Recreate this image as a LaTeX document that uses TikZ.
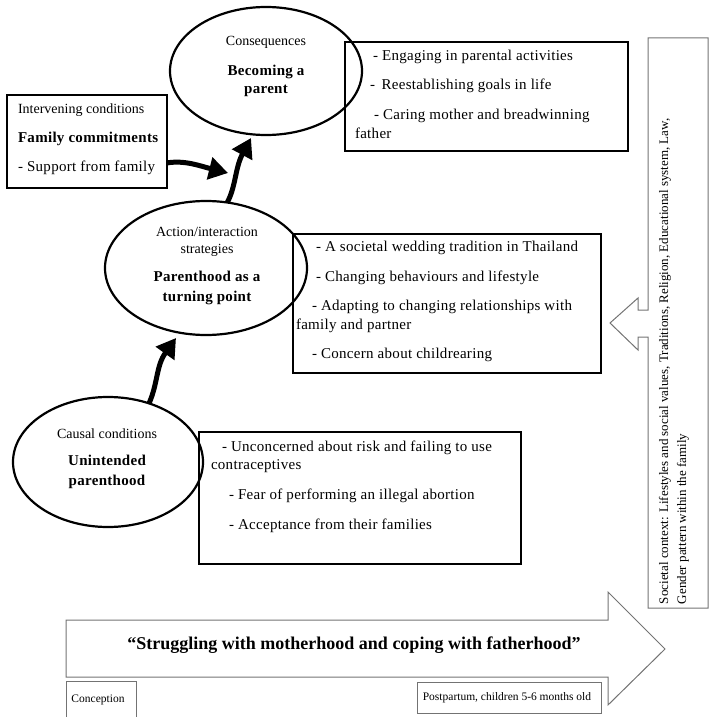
\documentclass[tikz,border=0pt]{standalone}
\usepackage{fontspec}
\setmainfont{Liberation Serif}
\newfontfamily\spacedserif[LetterSpace=2]{Liberation Serif}
\usetikzlibrary{shapes.geometric,arrows.meta}

\begin{document}
\begin{tikzpicture}[x=1pt,y=-1pt,
  every node/.style={inner sep=0pt, outer sep=0pt, text height=0.7em, text depth=0.05em},
  oval/.style={draw, ellipse, line width=2.2pt},
  frame/.style={draw, rectangle, line width=1.6pt},
  greyframe/.style={draw=black!55, rectangle, line width=1pt},
  ttl/.style={font=\fontsize{14}{16}\selectfont},
  bld/.style={font=\fontsize{15}{17}\spacedserif\bfseries},
  txt/.style={font=\fontsize{15}{17}\spacedserif, anchor=west},
  small/.style={font=\fontsize{11.5}{14}\selectfont},
  flow/.style={line width=5pt, -{Triangle[width=22pt,length=19pt]}},
]
\useasboundingbox (0,0) rectangle (710,717);

% ---------- paradigm ovals ----------
\node[oval, minimum width=192pt, minimum height=128pt] (cons) at (266,71) {};
\node[oval, minimum width=202pt, minimum height=134pt] (act) at (206,268) {};
\node[oval, minimum width=190pt, minimum height=130pt] (cause) at (108,462) {};

\node[ttl] (consT) at (266,42) {Consequences};
\node[bld] (consB1) at (266,72) {Becoming a};
\node[bld] (consB2) at (266,90) {parent};

\node[ttl] (actT1) at (207,233) {Action/interaction};
\node[ttl] (actT2) at (207,250) {strategies};
\node[bld] (actB1) at (207,278) {Parenthood as a};
\node[bld] (actB2) at (207,298) {turning point};

\node[ttl] (causeT) at (107,435) {Causal conditions};
\node[bld] (causeB1) at (107,462) {Unintended};
\node[bld] (causeB2) at (107,482) {parenthood};

% ---------- boxes of sub-categories ----------
\node[frame, minimum width=283pt, minimum height=109pt] (consbox) at (486.5,96.5) {};
\node[txt] (c1) at (373,57) {- Engaging in parental activities};
\node[txt] (c2) at (370,86) {-\, Reestablishing goals in life};
\node[txt] (c3) at (374,116) {- Caring mother and breadwinning};
\node[txt] (c4) at (355,135) {father};

\node[frame, minimum width=160pt, minimum height=93pt] (inter) at (87,141.5) {};
\node[ttl, anchor=west] (interT) at (18,110) {Intervening conditions};
\node[bld, anchor=west] (interB) at (18,139) {Family commitments};
\node[txt] (interS) at (18,168) {- Support from family};

\node[frame, minimum width=308pt, minimum height=139pt] (actbox) at (447,303.5) {};
\node[txt] (a1) at (316,248) {- A societal wedding tradition in Thailand};
\node[txt] (a2) at (316,278) {- Changing behaviours and lifestyle};
\node[txt] (a3) at (312,307) {- Adapting to changing relationships with};
\node[txt] (a4) at (296,326) {family and partner};
\node[txt] (a5) at (312,355) {- Concern about childrearing};

\node[frame, minimum width=322pt, minimum height=132pt] (causebox) at (360,498) {};
\node[txt] (u1) at (222,448) {- Unconcerned about risk and failing to use};
\node[txt] (u2) at (211,466) {contraceptives};
\node[txt] (u3) at (229,496) {- Fear of performing an illegal abortion};
\node[txt] (u4) at (229,526) {- Acceptance from their families};

% ---------- thick flow arrows ----------
\coordinate (tipA) at (176,338);
\coordinate (tipB) at (251,138);
\coordinate (tipC) at (228,173);
\draw[flow] (cause.55) .. controls (158,383) and (156,366) .. (tipA);
\draw[flow] (act.72) .. controls (236,186) and (235,168) .. (tipB);
\draw[flow] (inter.-15) .. controls (185,160) and (200,166) .. (tipC);

% ---------- societal context with inward arrow ----------
\draw[draw=black!55, line width=1pt, line join=miter]
  (648,38) -- (708,38) -- (708,608) -- (648,608) -- (648,337) -- (638,337)
  -- (638,350) -- (610,323) -- (638,298) -- (638,310) -- (648,310) -- cycle;
\node[font=\fontsize{13}{18}\selectfont, rotate=90, anchor=north west, align=left,
      text height=, text depth=] (ctx) at (659,604)
  {Societal context: Lifestyles and social values, Traditions, Religion, Educational system, Law,\\
   Gender pattern within the family};

% ---------- time line ----------
\draw[draw=black!55, line width=1pt, line join=miter]
  (66,620) -- (608,620) -- (608,592) -- (665,649) -- (608,705) -- (608,677) -- (66,677) -- cycle;
\node[font=\fontsize{18}{22}\selectfont\bfseries] (theme) at (354,646)
  {“Struggling with motherhood and coping with fatherhood”};

\node[greyframe, minimum width=70pt, minimum height=36pt] (start) at (101,699) {};
\node[small] (startT) at (98,699) {Conception};
\node[greyframe, minimum width=184pt, minimum height=31pt] (end) at (509,697.5) {};
\node[small] (endT) at (507,697.5) {Postpartum, children 5-6 months old};
\end{tikzpicture}
\end{document}
